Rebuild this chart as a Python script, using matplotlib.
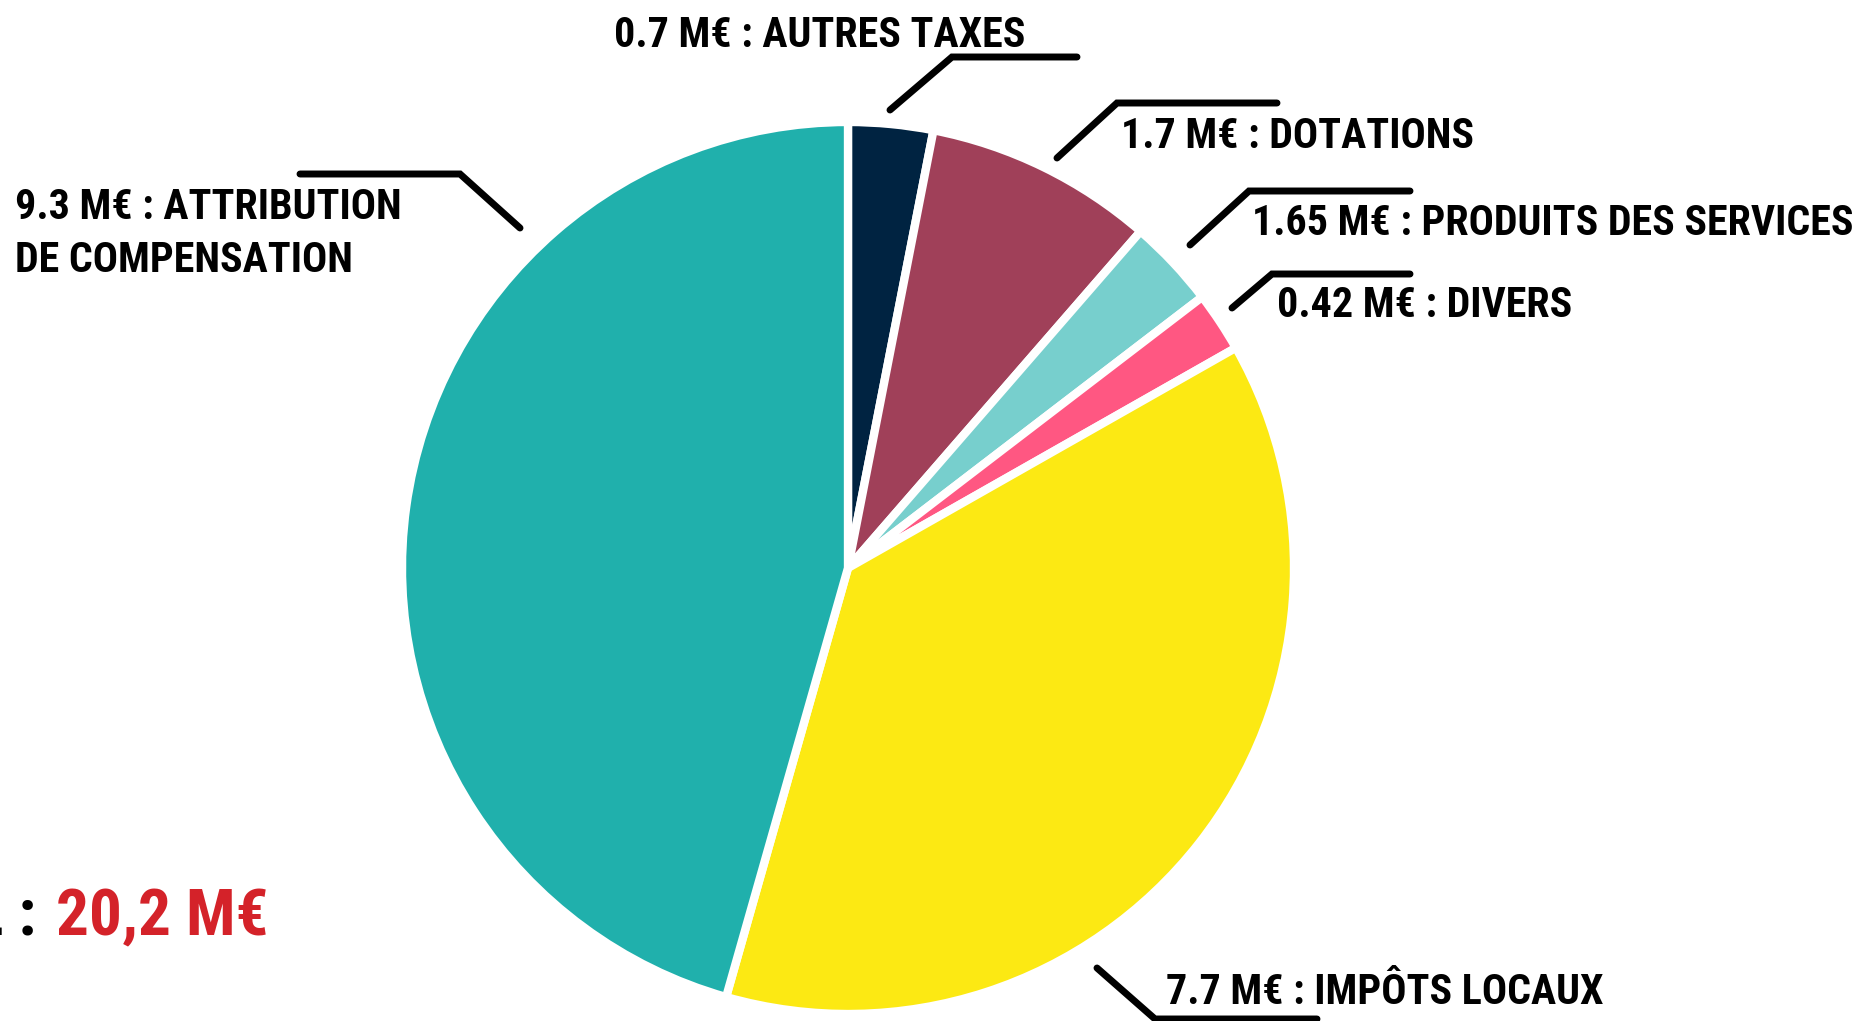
import matplotlib.pyplot as plt
import numpy as np

W, H = 1861, 1021

# slice values (M€) as drawn, clockwise from the top
categories = ['AUTRES TAXES', 'DOTATIONS', 'PRODUITS DES SERVICES',
              'DIVERS', 'IMPÔTS LOCAUX', 'ATTRIBUTION DE COMPENSATION']
values = [0.62, 1.68, 0.65, 0.44, 7.6, 9.21]
colors = ['#002341', '#A04059', '#77CFCD', '#FF5782', '#FCE913', '#20B0AC']

labels = ['0.7 M€ : AUTRES TAXES',
          '1.7 M€ : DOTATIONS',
          '1.65 M€ : PRODUITS DES SERVICES',
          '0.42 M€ : DIVERS',
          '7.7 M€ : IMPÔTS LOCAUX',
          '9.3 M€ : ATTRIBUTION\nDE COMPENSATION']
total_txt = '20,2 M€'

plt.rcParams['font.family'] = ['Roboto Condensed', 'Liberation Sans Narrow',
                               'Liberation Sans', 'DejaVu Sans']


def py(y):
    # picture rows -> axes y (y up)
    return H - y


fig = plt.figure(figsize=(W / 100, H / 100), dpi=100)
ax = fig.add_axes([0, 0, 1, 1])

ax.pie(values, colors=colors, startangle=90, counterclock=False,
       center=(848, py(568)), radius=446,
       wedgeprops=dict(edgecolor='white', linewidth=6))
ax.set_xlim(0, W)
ax.set_ylim(0, H)
ax.set_aspect('equal')
ax.axis('off')

# leader lines: tip -> elbow -> end, and text anchor
leaders = [
    [(890, 110), (952, 57), (1077, 57)],
    [(1057, 158), (1117, 103), (1277, 103)],
    [(1190, 245), (1249, 191), (1410, 191)],
    [(1232, 308), (1272, 274), (1410, 274)],
    [(1097, 968), (1155, 1019), (1317, 1019)],
    [(520, 228), (460, 174), (300, 174)],
]
text_pos = [(614, 35), (1121, 136), (1252, 223), (1277, 305), (1166, 993), (15, 234)]
# widths of the labels in the reference (px), used to size the font
text_w = [402, 335, 602, 285, 427, 370]

texts = []
for pts, lab, (tx, ty) in zip(leaders, labels, text_pos):
    xs = [p[0] for p in pts]
    ys = [py(p[1]) for p in pts]
    ax.plot(xs, ys, color='black', lw=5, solid_capstyle='round',
            solid_joinstyle='miter', clip_on=False)
    t = ax.text(tx, py(ty), lab, fontsize=30, fontweight='bold', ha='left',
                va='center', linespacing=1.4, color='black')
    texts.append(t)

t1 = ax.text(36, py(918), 'TOTAL :', fontsize=50, fontweight='bold',
             ha='right', va='center', color='black')
t2 = ax.text(56, py(918), total_txt, fontsize=50, fontweight='bold',
             ha='left', va='center', color='#D42229')

# fit font size to the reference widths
r = fig.canvas.get_renderer()
ratios = [tw / t.get_window_extent(r).width for t, tw in zip(texts, text_w)]
k = float(np.median(ratios)) * 1.03
for t in texts:
    t.set_fontsize(30 * k)
k2 = 213 / t2.get_window_extent(r).width
t1.set_fontsize(50 * k2)
t2.set_fontsize(50 * k2)

fig.savefig('out.png', dpi=100, facecolor='white')
